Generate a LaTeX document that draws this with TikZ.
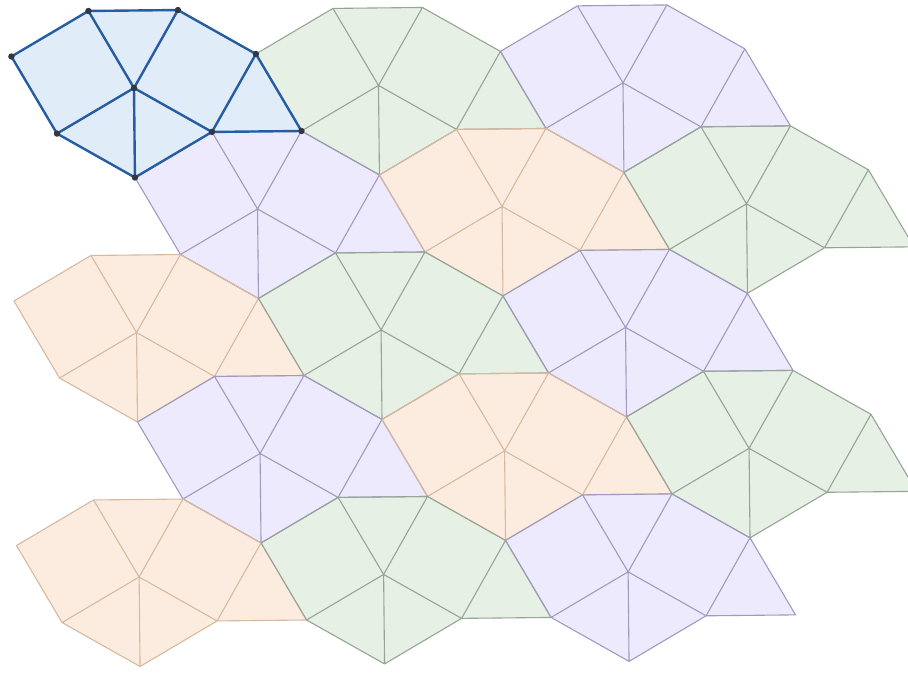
\documentclass[tikz,border=0pt]{standalone}
\definecolor{fillb}{RGB}{225,236,249}
\definecolor{lineb}{RGB}{38,92,160}
\definecolor{fillg}{RGB}{231,240,229}
\definecolor{lineg}{RGB}{150,165,150}
\definecolor{fillp}{RGB}{236,234,252}
\definecolor{linep}{RGB}{160,155,190}
\definecolor{fillo}{RGB}{252,236,224}
\definecolor{lineo}{RGB}{215,185,160}
\definecolor{dotc}{RGB}{50,55,65}
\begin{document}
\begin{tikzpicture}[x=1pt,y=-1pt,line join=round]
\useasboundingbox (0,0) rectangle (908,673);
\fill[white] (0,0) rectangle (908,673);
\def\tileshape{%
  (0,0) -- (44.75,-77.51) -- (-44.75,-77.51) -- cycle
  (0,0) -- (77.51,44.75) -- (122.26,-32.76) -- (44.75,-77.51) -- cycle
  (77.51,44.75) -- (167.01,44.75) -- (122.26,-32.76) -- cycle
  (0,0) -- (0,89.5) -- (77.51,44.75) -- cycle
  (0,0) -- (-77.51,44.75) -- (0,89.5) -- cycle
  (0,0) -- (-44.75,-77.51) -- (-122.26,-32.76) -- (-77.51,44.75) -- cycle}
\begin{scope}[rotate around={0.6:(134,88)}]
\foreach \i/\j/\c in {0/0/b,1/1/g,2/2/p,1/0/p,2/1/o,3/2/g,1/-1/o,2/0/g,3/1/p,2/-1/p,3/0/o,4/1/g,2/-2/o,3/-1/g,4/0/p}{
  \pgfmathsetmacro\cx{134+122.26*(\i+\j)}
  \pgfmathsetmacro\cy{88+122.26*(\i-\j)}
  \begin{scope}[shift={(\cx,\cy)}]
    \fill[fill=fill\c] \tileshape;
  \end{scope}
}
\foreach \i/\j/\c in {1/1/g,2/2/p,1/0/p,2/1/o,3/2/g,1/-1/o,2/0/g,3/1/p,2/-1/p,3/0/o,4/1/g,2/-2/o,3/-1/g,4/0/p}{
  \pgfmathsetmacro\cx{134+122.26*(\i+\j)}
  \pgfmathsetmacro\cy{88+122.26*(\i-\j)}
  \begin{scope}[shift={(\cx,\cy)}]
    \draw[draw=line\c,line width=1.1pt] \tileshape;
  \end{scope}
}
\begin{scope}[shift={(134,88)}]
  \draw[draw=lineb,line width=2.4pt] \tileshape;
  \foreach \p in {(0,0),(44.75,-77.51),(-44.75,-77.51),(122.26,-32.76),(77.51,44.75),(167.01,44.75),(0,89.5),(-77.51,44.75),(-122.26,-32.76)}
    \fill[dotc] \p circle (3.2);
\end{scope}
\end{scope}
\end{tikzpicture}
\end{document}
